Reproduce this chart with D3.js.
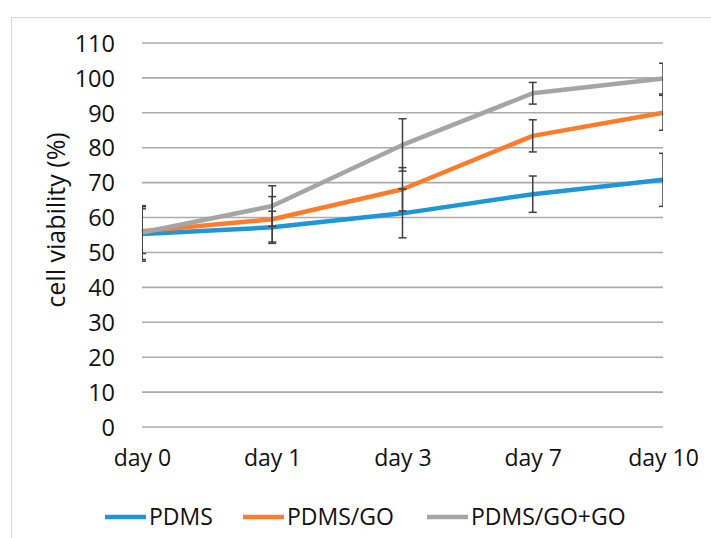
<!DOCTYPE html>
<html>
<head>
<meta charset="utf-8">
<script src="https://cdn.jsdelivr.net/npm/d3@7"></script>
<style>
  body { margin: 0; background: #fff; }
  text { font-family: "Open Sans", "Noto Sans", sans-serif; fill: #111; }
</style>
</head>
<body>
<div class="chart"></div>
<script>
// Data
var days = ["day 0", "day 1", "day 3", "day 7", "day 10"];
var yTicks = [0, 10, 20, 30, 40, 50, 60, 70, 80, 90, 100, 110];

var pdms = [55.3, 57.2, 61.2, 66.7, 70.8];
var pdmsErr = [7.8, 4.6, 7.0, 5.2, 7.6];

var pdmsGo = [56.1, 59.5, 68.1, 83.4, 90.0];
var pdmsGoErr = [6.4, 6.5, 6.2, 4.6, 5.0];

var pdmsGoGo = [55.7, 63.3, 80.8, 95.6, 99.8];
var pdmsGoGoErr = [7.7, 5.8, 7.5, 3.1, 4.4];

var seriesNames = ["PDMS", "PDMS/GO", "PDMS/GO+GO"];
var seriesColors = ["#1e96d8", "#fd7c2a", "#a5a5a5"];

var series = [
    {name: seriesNames[0], values: pdms, err: pdmsErr, color: seriesColors[0]},
    {name: seriesNames[1], values: pdmsGo, err: pdmsGoErr, color: seriesColors[1]},
    {name: seriesNames[2], values: pdmsGoGo, err: pdmsGoGoErr, color: seriesColors[2]}
];

var svgWidth = 711;
var svgHeight = 538;

var plot = {left: 142, right: 663, top: 43, bottom: 427};

var svg = d3.select(".chart")
    .append("svg")
    .attr("width", svgWidth)
    .attr("height", svgHeight);

// light frame around the chart area
svg.append("rect")
    .attr("x", 11.5)
    .attr("y", 17.5)
    .attr("width", 720)
    .attr("height", 560)
    .attr("fill", "none")
    .attr("stroke", "#d9d9d9")
    .attr("stroke-width", 1);

var xScale = d3.scalePoint()
    .domain(days)
    .range([plot.left, plot.right]);

var yScale = d3.scaleLinear()
    .domain([0, 110])
    .range([plot.bottom, plot.top]);

// gridlines
svg.append("g")
    .selectAll("line")
    .data(yTicks)
    .enter()
    .append("line")
    .attr("x1", plot.left)
    .attr("x2", plot.right)
    .attr("y1", function(d) { return yScale(d); })
    .attr("y2", function(d) { return yScale(d); })
    .attr("stroke", "#ababab")
    .attr("stroke-width", 1.6);

// y axis labels
var leftAxis = d3.axisLeft(yScale)
    .tickValues(yTicks)
    .tickSize(0)
    .tickPadding(0);

var yAxis = svg.append("g")
    .attr("transform", "translate(115,0)")
    .call(leftAxis);
yAxis.select(".domain").remove();
yAxis.selectAll("text")
    .attr("font-size", "23.5px")
    .attr("font-family", null)
    .attr("dy", "0.35em");

// x axis labels
var bottomAxis = d3.axisBottom(xScale)
    .tickSize(0)
    .tickPadding(0);

var xAxis = svg.append("g")
    .attr("transform", "translate(0,450)")
    .call(bottomAxis);
xAxis.select(".domain").remove();
xAxis.selectAll("text")
    .attr("font-size", "23px")
    .attr("font-family", null)
    .attr("dy", "0.71em");

// y axis title
svg.append("text")
    .attr("transform", "translate(65,220) rotate(-90)")
    .attr("text-anchor", "middle")
    .attr("font-size", "25px")
    .text("cell viability (%)");

// clip error bars to plot area
svg.append("clipPath")
    .attr("id", "plotClip")
    .append("rect")
    .attr("x", plot.left)
    .attr("y", 0)
    .attr("width", plot.right - plot.left)
    .attr("height", svgHeight);

var line = d3.line()
    .x(function(d, i) { return xScale(days[i]); })
    .y(function(d) { return yScale(d); });

var lines = svg.append("g");
series.forEach(function(s) {
    lines.append("path")
        .datum(s.values)
        .attr("d", line)
        .attr("fill", "none")
        .attr("stroke", s.color)
        .attr("stroke-width", 4.5)
        .attr("stroke-linejoin", "round");
});

// error bars
var errG = svg.append("g").attr("clip-path", "url(#plotClip)");
series.forEach(function(s) {
    s.values.forEach(function(v, i) {
        var x = xScale(days[i]);
        var y0 = yScale(v - s.err[i]);
        var y1 = yScale(v + s.err[i]);
        errG.append("line")
            .attr("x1", x).attr("x2", x)
            .attr("y1", y0).attr("y2", y1)
            .attr("stroke", "#404040").attr("stroke-width", 1.5);
        [y0, y1].forEach(function(yy) {
            errG.append("line")
                .attr("x1", x - 4).attr("x2", x + 4)
                .attr("y1", yy).attr("y2", yy)
                .attr("stroke", "#404040").attr("stroke-width", 1.5);
        });
    });
});

// legend
var legendX = [105, 243, 427];
var legend = svg.append("g");
series.forEach(function(s, i) {
    legend.append("line")
        .attr("x1", legendX[i]).attr("x2", legendX[i] + 41)
        .attr("y1", 517).attr("y2", 517)
        .attr("stroke", s.color)
        .attr("stroke-width", 4.5);
    legend.append("text")
        .attr("x", legendX[i] + 44)
        .attr("y", 517)
        .attr("dy", "0.35em")
        .attr("font-size", "23px")
        .text(s.name);
});
</script>
</body>
</html>
